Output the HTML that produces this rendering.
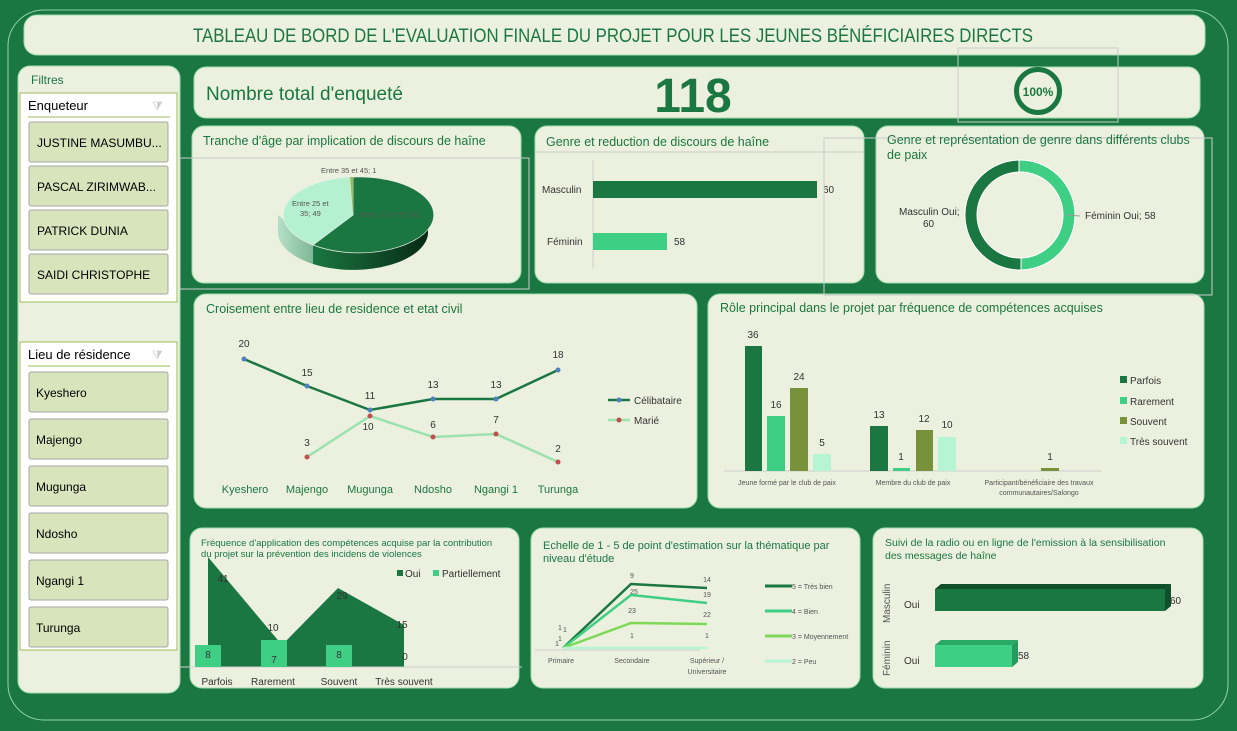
<!DOCTYPE html>
<html><head><meta charset="utf-8"><style>
html,body{margin:0;padding:0;background:#1b7741;}
svg{display:block;font-family:"Liberation Sans",sans-serif;}
</style></head><body>
<svg width="1237" height="731" viewBox="0 0 1237 731" xmlns="http://www.w3.org/2000/svg">
<defs>
<linearGradient id="pd" x1="0" x2="1"><stop offset="0" stop-color="#1b7741"/><stop offset="1" stop-color="#072a15"/></linearGradient>
<linearGradient id="pl" x1="0" x2="1"><stop offset="0" stop-color="#b5e0c8"/><stop offset="1" stop-color="#7fb896"/></linearGradient>
</defs>
<rect width="1237" height="731" fill="#1b7741"/>
<rect x="8" y="10" width="1220" height="710" rx="36" fill="none" stroke="#8fd6a4" stroke-width="1"/>
<g fill="#ecf0df" stroke="#9fdcae" stroke-width="1">
<rect x="24" y="15" width="1181" height="40" rx="13"/>
<rect x="18" y="66" width="162" height="627" rx="12"/>
<rect x="194" y="67" width="1006" height="51" rx="12"/>
<rect x="192" y="126" width="329" height="157" rx="12"/>
<rect x="535" y="126" width="329" height="157" rx="12"/>
<rect x="876" y="126" width="328" height="157" rx="12"/>
<rect x="194" y="294" width="503" height="214" rx="12"/>
<rect x="708" y="294" width="496" height="214" rx="12"/>
<rect x="190" y="528" width="329" height="160" rx="12"/>
<rect x="531" y="528" width="329" height="160" rx="12"/>
<rect x="873" y="528" width="330" height="160" rx="12"/>
</g>
<text x="193" y="42" font-size="19" fill="#1b7741" textLength="840" lengthAdjust="spacingAndGlyphs">TABLEAU DE BORD DE L'EVALUATION FINALE DU PROJET POUR LES JEUNES BÉNÉFICIAIRES DIRECTS</text>
<!-- filters -->
<text x="31" y="84" font-size="12" fill="#1b7741">Filtres</text>
<rect x="20" y="93" width="157" height="209" fill="#fff" stroke="#9bbb59"/>
<text x="28" y="110" font-size="13" fill="#000">Enqueteur</text>
<line x1="28" y1="117" x2="170" y2="117" stroke="#9bbb59"/>
<text x="152" y="110" font-size="12" fill="#ccc">⧩</text>
<g fill="#d8e4bc" stroke="#a6a6a6">
<rect x="29" y="122" width="139" height="40" rx="2"/><rect x="29" y="166" width="139" height="40" rx="2"/>
<rect x="29" y="210" width="139" height="40" rx="2"/><rect x="29" y="254" width="139" height="40" rx="2"/>
</g>
<g font-size="12" fill="#000">
<text x="37" y="147">JUSTINE MASUMBU...</text><text x="37" y="191">PASCAL ZIRIMWAB...</text>
<text x="37" y="235">PATRICK DUNIA</text><text x="37" y="279">SAIDI CHRISTOPHE</text>
</g>
<rect x="20" y="342" width="157" height="308" fill="#fff" stroke="#9bbb59"/>
<text x="28" y="359" font-size="13" fill="#000">Lieu de résidence</text>
<line x1="28" y1="366" x2="170" y2="366" stroke="#9bbb59"/>
<text x="152" y="359" font-size="12" fill="#ccc">⧩</text>
<g fill="#d8e4bc" stroke="#a6a6a6">
<rect x="29" y="372" width="139" height="40" rx="2"/><rect x="29" y="419" width="139" height="40" rx="2"/>
<rect x="29" y="466" width="139" height="40" rx="2"/><rect x="29" y="513" width="139" height="40" rx="2"/>
<rect x="29" y="560" width="139" height="40" rx="2"/><rect x="29" y="607" width="139" height="40" rx="2"/>
</g>
<g font-size="12" fill="#000">
<text x="36" y="397">Kyeshero</text><text x="36" y="444">Majengo</text><text x="36" y="491">Mugunga</text>
<text x="36" y="538">Ndosho</text><text x="36" y="585">Ngangi 1</text><text x="36" y="632">Turunga</text>
</g>
<!-- KPI -->
<text x="206" y="100" font-size="19" fill="#1b7741">Nombre total d'enqueté</text>
<text x="693" y="112" font-size="48" font-weight="bold" fill="#1b7741" text-anchor="middle">118</text>
<rect x="958" y="48" width="160" height="74" fill="none" stroke="#ccc"/>
<circle cx="1038" cy="91" r="21.5" fill="none" stroke="#1b7741" stroke-width="5"/>
<text x="1038" y="96" font-size="12" font-weight="bold" fill="#1b7741" text-anchor="middle">100%</text>
<!-- pie -->
<text x="203" y="145" font-size="12.5" fill="#1b7741">Tranche d'âge par implication de discours de haîne</text>
<rect x="180" y="158" width="349" height="131" fill="none" stroke="#ccc"/>
<path d="M278,215 L278,234 A75,38 0 0 0 313,264 L313,245 Z" fill="url(#pl)"/>
<path d="M313,245 L313,264 A75,38 0 0 0 428,234 L428,215 A75,38 0 0 1 313,245 Z" fill="url(#pd)"/>
<path d="M353,215 L353,177 A75,38 0 1 1 313,245 Z" fill="#1b7741" stroke="#e8f0e8" stroke-width="0.7"/>
<path d="M353,215 L313,245 A75,38 0 0 1 350,177 Z" fill="#b5f0d0" stroke="#e8f0e8" stroke-width="0.7"/>
<path d="M353,215 L350,177 L353,177 Z" fill="#9bbb59"/>
<g font-size="7.5" fill="#555">
<text x="321" y="173">Entre 35 et  45; 1</text>
<text x="292" y="206">Entre 25 et</text><text x="300" y="216">35; 49</text>
<text x="359" y="217">Entre 15 et  25; 68</text>
</g>
<!-- genre bar -->
<text x="546" y="146" font-size="12.5" fill="#1b7741">Genre et reduction de discours de haîne</text>
<line x1="535" y1="152" x2="864" y2="152" stroke="#ccc"/>
<line x1="593" y1="160" x2="593" y2="268" stroke="#d0d0d0"/>
<rect x="593" y="181" width="224" height="17" fill="#1b7741"/>
<rect x="593" y="233" width="74" height="17" fill="#3ecf85"/>
<g font-size="10" fill="#333"><text x="542" y="193">Masculin</text><text x="547" y="245">Féminin</text>
<text x="823" y="193">60</text><text x="674" y="245">58</text></g>
<!-- genre donut -->
<rect x="824" y="138" width="388" height="157" fill="none" stroke="#ccc"/>
<text x="887" y="144" font-size="12.5" fill="#1b7741">Genre et représentation de genre dans différents clubs</text>
<text x="887" y="159" font-size="12.5" fill="#1b7741">de paix</text>
<path d="M1019,160 A55,55 0 0 1 1021,270 L1021,258 A43,43 0 0 0 1019,172 Z" fill="#3ecf85" stroke="#fff"/>
<path d="M1019,160 A55,55 0 1 0 1021,270 L1021,258 A43,43 0 1 1 1019,172 Z" fill="#1b7741" stroke="#fff"/>
<line x1="1066" y1="215" x2="1080" y2="216" stroke="#999"/>
<g font-size="10" fill="#333"><text x="899" y="215">Masculin Oui;</text><text x="923" y="227">60</text>
<text x="1085" y="219">Féminin Oui; 58</text></g>
<!-- croisement -->
<text x="206" y="313" font-size="12.5" fill="#1b7741">Croisement entre lieu de residence et etat civil</text>
<polyline points="244,359 307,386 370,410 433,399 496,399 558,370" fill="none" stroke="#1b7741" stroke-width="2.5"/>
<polyline points="307,457 370,416 433,437 496,434 558,462" fill="none" stroke="#9ae2ae" stroke-width="2.5"/>
<g fill="#4f81bd"><circle cx="244" cy="359" r="2.5"/><circle cx="307" cy="386" r="2.5"/><circle cx="370" cy="410" r="2.5"/><circle cx="433" cy="399" r="2.5"/><circle cx="496" cy="399" r="2.5"/><circle cx="558" cy="370" r="2.5"/></g>
<g fill="#c0504d"><circle cx="307" cy="457" r="2.5"/><circle cx="370" cy="416" r="2.5"/><circle cx="433" cy="437" r="2.5"/><circle cx="496" cy="434" r="2.5"/><circle cx="558" cy="462" r="2.5"/></g>
<g font-size="10" fill="#333" text-anchor="middle">
<text x="244" y="347">20</text><text x="307" y="376">15</text><text x="370" y="399">11</text><text x="433" y="388">13</text><text x="496" y="388">13</text><text x="558" y="358">18</text>
<text x="307" y="446">3</text><text x="368" y="430">10</text><text x="433" y="428">6</text><text x="496" y="423">7</text><text x="558" y="452">2</text>
</g>
<g font-size="11" fill="#1b7741" text-anchor="middle">
<text x="245" y="493">Kyeshero</text><text x="307" y="493">Majengo</text><text x="370" y="493">Mugunga</text><text x="433" y="493">Ndosho</text><text x="496" y="493">Ngangi 1</text><text x="558" y="493">Turunga</text>
</g>
<line x1="608" y1="400" x2="630" y2="400" stroke="#1b7741" stroke-width="2.5"/><circle cx="619" cy="400" r="2.5" fill="#4f81bd"/>
<line x1="608" y1="420" x2="630" y2="420" stroke="#9ae2ae" stroke-width="2.5"/><circle cx="619" cy="420" r="2.5" fill="#c0504d"/>
<text x="634" y="404" font-size="10" fill="#333">Célibataire</text><text x="634" y="424" font-size="10" fill="#333">Marié</text>
<!-- role -->
<text x="720" y="312" font-size="12.5" fill="#1b7741">Rôle principal dans le projet par fréquence de compétences acquises</text>
<line x1="724" y1="471" x2="1101" y2="471" stroke="#d0d0d0"/>
<g fill="#1b7741"><rect x="745" y="346" width="17" height="125"/><rect x="870" y="426" width="18" height="45"/></g>
<g fill="#3ecf85"><rect x="767" y="416" width="18" height="55"/><rect x="893" y="468" width="17" height="3"/></g>
<g fill="#77923a"><rect x="790" y="388" width="18" height="83"/><rect x="916" y="430" width="17" height="41"/><rect x="1041" y="468" width="18" height="3"/></g>
<g fill="#b5f5d3"><rect x="813" y="454" width="18" height="17"/><rect x="938" y="437" width="18" height="34"/></g>
<g font-size="10" fill="#333" text-anchor="middle">
<text x="753" y="338">36</text><text x="776" y="408">16</text><text x="799" y="380">24</text><text x="822" y="446">5</text>
<text x="879" y="418">13</text><text x="901" y="460">1</text><text x="924" y="422">12</text><text x="947" y="428">10</text><text x="1050" y="460">1</text>
</g>
<g font-size="7" fill="#555" text-anchor="middle">
<text x="787" y="485">Jeune formé par le club de paix</text><text x="913" y="485">Membre du club de paix</text>
<text x="1039" y="485">Participant/bénéficiaire des travaux</text><text x="1039" y="495">communautaires/Salongo</text>
</g>
<rect x="1120" y="376" width="7" height="7" fill="#1b7741"/><rect x="1120" y="397" width="7" height="7" fill="#3ecf85"/>
<rect x="1120" y="417" width="7" height="7" fill="#77923a"/><rect x="1120" y="437" width="7" height="7" fill="#b5f5d3"/>
<g font-size="10" fill="#333"><text x="1130" y="384">Parfois</text><text x="1130" y="405">Rarement</text><text x="1130" y="425">Souvent</text><text x="1130" y="445">Très souvent</text></g>
<!-- freq -->
<path d="M208,557 L282,645 L338,588 L404,625 L404,667 L208,667 Z" fill="#1b7741"/>
<line x1="180" y1="667" x2="522" y2="667" stroke="#d0d0d0"/>
<g fill="#3ecf85"><rect x="195" y="645" width="26" height="22"/><rect x="261" y="640" width="26" height="27"/><rect x="326" y="645" width="26" height="22"/></g>
<text x="201" y="546" font-size="9.5" fill="#1b7741">Fréquence d'application des compétences acquise par la contribution</text>
<text x="201" y="557" font-size="9.5" fill="#1b7741">du projet sur la prévention des incidens de violences</text>
<rect x="397" y="570" width="6" height="6" fill="#1b7741"/><text x="405" y="577" font-size="10" fill="#333">Oui</text>
<rect x="433" y="570" width="6" height="6" fill="#3ecf85"/><text x="442" y="577" font-size="10" fill="#333">Partiellement</text>
<g font-size="10" fill="#333" text-anchor="middle">
<text x="223" y="582">41</text><text x="273" y="631">10</text><text x="342" y="599">29</text><text x="402" y="628">15</text>
<text x="208" y="658">8</text><text x="274" y="663">7</text><text x="339" y="658">8</text><text x="405" y="660">0</text>
<text x="217" y="685">Parfois</text><text x="273" y="685">Rarement</text><text x="339" y="685">Souvent</text><text x="404" y="685">Très souvent</text>
</g>
<!-- echelle -->
<text x="543" y="549" font-size="11" fill="#1b7741">Echelle de 1 - 5 de point d'estimation sur la thématique par</text>
<text x="543" y="562" font-size="11" fill="#1b7741">niveau d'étude</text>
<line x1="535" y1="650" x2="700" y2="650" stroke="#d0d0d0"/>
<polyline points="563,648 631,584 707,588" fill="none" stroke="#1b7741" stroke-width="2.5"/>
<polyline points="563,648 631,595 707,603" fill="none" stroke="#3ecf85" stroke-width="2.5"/>
<polyline points="563,648 631,623 707,624" fill="none" stroke="#7ed957" stroke-width="2.5"/>
<polyline points="563,648 631,648 707,648" fill="none" stroke="#b5f5d3" stroke-width="2.5"/>
<g font-size="7" fill="#555" text-anchor="middle">
<text x="632" y="578">9</text><text x="707" y="582">14</text><text x="634" y="594">25</text><text x="707" y="597">19</text>
<text x="632" y="613">23</text><text x="707" y="617">22</text><text x="632" y="638">1</text><text x="707" y="638">1</text>
<text x="560" y="630">1</text><text x="565" y="632">1</text><text x="560" y="641">1</text><text x="557" y="646">1</text>
<text x="561" y="663">Primaire</text><text x="632" y="663">Secondaire</text><text x="707" y="663">Supérieur /</text><text x="707" y="674">Universitaire</text>
</g>
<line x1="765" y1="586" x2="792" y2="586" stroke="#1b7741" stroke-width="3"/><line x1="765" y1="611" x2="792" y2="611" stroke="#3ecf85" stroke-width="3"/>
<line x1="765" y1="636" x2="792" y2="636" stroke="#7ed957" stroke-width="3"/><line x1="765" y1="661" x2="792" y2="661" stroke="#b5f5d3" stroke-width="3"/>
<g font-size="7" fill="#555"><text x="792" y="589">5 = Très bien</text><text x="792" y="614">4 = Bien</text><text x="792" y="639">3 = Moyennement</text><text x="792" y="664">2 = Peu</text></g>
<!-- suivi -->
<text x="885" y="546" font-size="10.5" fill="#1b7741">Suivi de la radio ou en ligne de l'emission à la sensibilisation</text>
<text x="885" y="559" font-size="10.5" fill="#1b7741">des messages de haîne</text>
<path d="M935,589 L941,584 L1171,584 L1165,589 Z" fill="#0f4f2a"/>
<path d="M1165,589 L1171,584 L1171,606 L1165,611 Z" fill="#0f4f2a"/>
<rect x="935" y="589" width="230" height="22" fill="#1b7741"/>
<path d="M935,645 L941,640 L1018,640 L1012,645 Z" fill="#2aa866"/>
<path d="M1012,645 L1018,640 L1018,662 L1012,667 Z" fill="#259a5d"/>
<rect x="935" y="645" width="77" height="22" fill="#3ecf85"/>
<g font-size="10" fill="#333"><text x="904" y="608">Oui</text><text x="904" y="664">Oui</text><text x="1170" y="604">60</text><text x="1018" y="659">58</text></g>
<text transform="translate(890,623) rotate(-90)" font-size="10" fill="#555">Masculin</text>
<text transform="translate(890,676) rotate(-90)" font-size="10" fill="#555">Féminin</text>
</svg>
</body></html>
